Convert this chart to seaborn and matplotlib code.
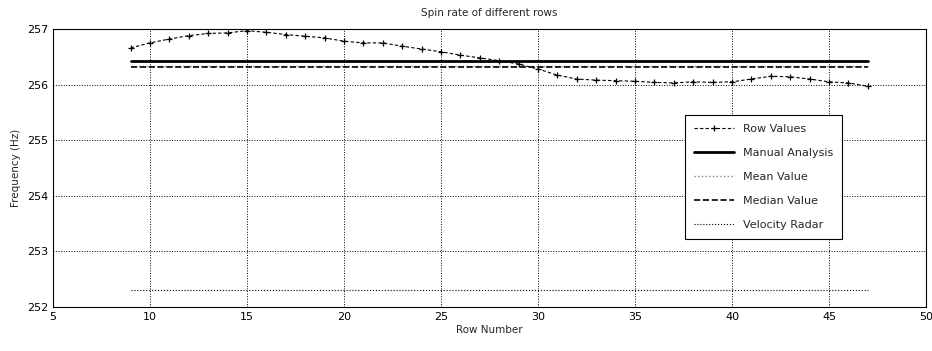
import matplotlib
matplotlib.use("Agg")
import matplotlib.pyplot as plt
import seaborn as sns
import pandas as pd

rows = list(range(9, 48))
row_values = [256.66, 256.75, 256.82, 256.88, 256.92, 256.93, 256.97, 256.94, 256.90,
              256.87, 256.84, 256.78, 256.75, 256.75, 256.69, 256.64, 256.59, 256.53,
              256.48, 256.43, 256.37, 256.28, 256.17, 256.10, 256.08, 256.07, 256.06,
              256.04, 256.03, 256.05, 256.04, 256.05, 256.10, 256.15, 256.14, 256.10,
              256.05, 256.03, 255.97]
span = [9, 47]
manual_value = 256.42
mean_value = 256.34
median_value = 256.32
radar_value = 252.30

sns.set_theme(style="white")
plt.rcParams['font.family'] = ['DejaVu Sans']

fig = plt.figure(figsize=(9.32, 3.51), dpi=100)
ax = fig.add_axes([0.0569, 0.1254, 0.9367, 0.792])

df = pd.DataFrame({"row": rows, "val": row_values})
sns.lineplot(data=df, x="row", y="val", ax=ax, color="black", linestyle=(0, (3, 2)),
             lw=0.8, marker="+", markersize=5, markeredgewidth=0.9,
             markeredgecolor="black", label="Row Values")
sns.lineplot(x=span, y=[manual_value] * 2, ax=ax, color="black", lw=2.0, label="Manual Analysis")
sns.lineplot(x=span, y=[mean_value] * 2, ax=ax, color="#888888", lw=1.0, linestyle=":", label="Mean Value")
sns.lineplot(x=span, y=[median_value] * 2, ax=ax, color="black", lw=1.2, linestyle="--", label="Median Value")
sns.lineplot(x=span, y=[radar_value] * 2, ax=ax, color="black", lw=0.8, linestyle=":", label="Velocity Radar")

ax.set_xlim(5, 50)
ax.set_ylim(252, 257)
ax.set_xticks(range(5, 51, 5))
ax.set_yticks(range(252, 258))
ax.tick_params(labelsize=8, length=2, direction="in", colors="black")
ax.grid(True, color="black", linestyle=":", lw=0.7)
for s in ax.spines.values():
    s.set_color("black")
    s.set_linewidth(0.8)
ax.set_xlabel("Row Number", fontsize=7.5, labelpad=2)
ax.set_ylabel("Frequency (Hz)", fontsize=7.5, labelpad=4)
ax.set_title("Spin rate of different rows", fontsize=7.5, pad=9)

leg = ax.legend(loc="upper left", bbox_to_anchor=(0.724, 0.69), fontsize=8, frameon=True,
                fancybox=False, edgecolor="black", framealpha=1, handlelength=3.6,
                borderpad=0.8, labelspacing=1.25, borderaxespad=0)
leg.get_frame().set_linewidth(0.8)

fig.savefig("out.png", dpi=100)
